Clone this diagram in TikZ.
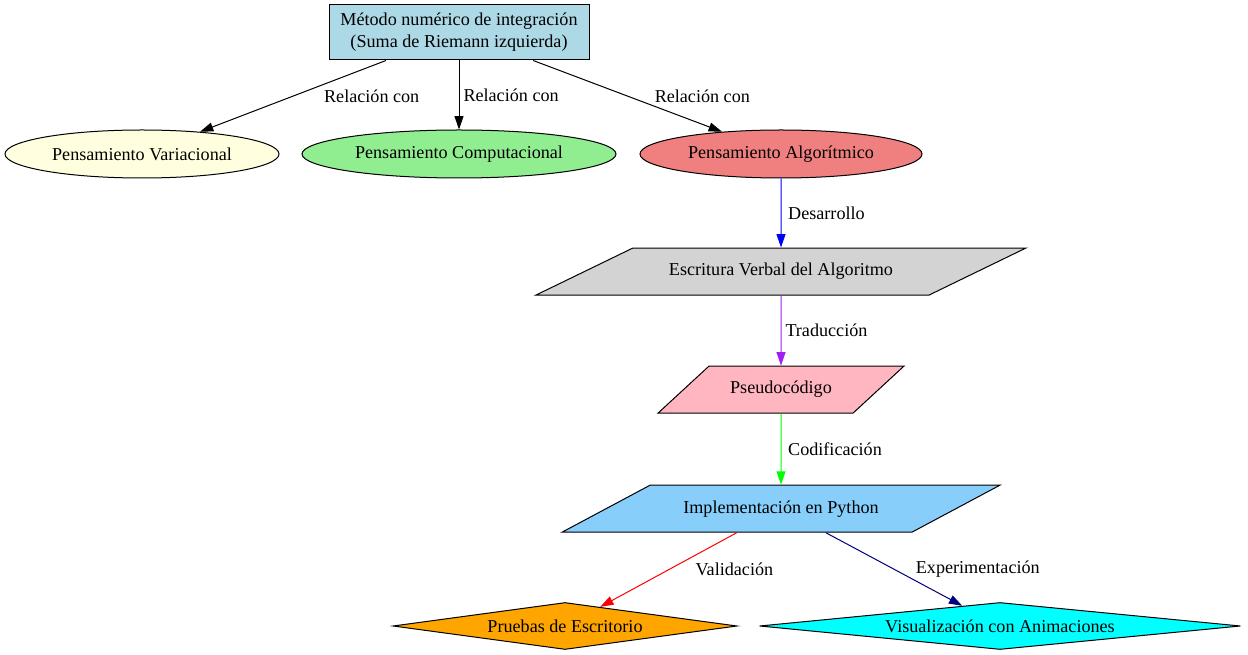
\documentclass[tikz,border=0pt]{standalone}
\usepackage{fontspec}
\setmainfont{Liberation Serif}
\usepackage{xcolor}
\usepackage{tikz}
\usetikzlibrary{positioning,arrows.meta,shapes.geometric}

\definecolor{gvlightblue}{HTML}{ADD8E6}
\definecolor{gvlightyellow}{HTML}{FFFFE0}
\definecolor{gvlightgreen}{HTML}{90EE90}
\definecolor{gvlightcoral}{HTML}{F08080}
\definecolor{gvlightgray}{HTML}{D3D3D3}
\definecolor{gvlightpink}{HTML}{FFB6C1}
\definecolor{gvskyblue}{HTML}{87CEFA}
\definecolor{gvorange}{HTML}{FFA500}
\definecolor{gvcyan}{HTML}{00FFFF}
\definecolor{gvpurple}{HTML}{A020F0}
\definecolor{gvgreen}{HTML}{00FF00}
\definecolor{gvnavy}{HTML}{000080}

\begin{document}
\begin{tikzpicture}[
  x=0.75pt, y=-0.75pt,
  font=\fontsize{13.6pt}{16.5pt}\selectfont,
  every node/.style={align=center},
  node distance=52.5pt,
  hdr/.style={draw, line width=0.75pt, fill=gvlightblue, minimum width=195pt, minimum height=41.25pt, inner sep=0pt},
  idea/.style={draw, ellipse, line width=0.75pt, minimum height=36pt, inner sep=0pt},
  paso/.style={draw, trapezium, trapezium stretches body=true, line width=0.75pt,
    text height=9.5pt, text depth=3pt, inner xsep=0pt, inner ysep=11.4pt},
  prueba/.style={draw, diamond, aspect=8, line width=0.75pt, minimum height=35.25pt, inner sep=0pt},
  flecha/.style={-{Triangle[length=10pt,width=6.7pt]}, line width=0.75pt},
  etq/.style={inner sep=0pt}
]
\useasboundingbox (0,0) rectangle (1248,655);

\node[hdr] (metodo) at (459,32.5) {Método numérico de integración\\(Suma de Riemann izquierda)};

\node[idea, fill=gvlightyellow, minimum width=205.5pt] (variac) at (142,154) {Pensamiento Variacional};
\node[idea, fill=gvlightgreen, minimum width=235.5pt] (comput) at (459,154) {Pensamiento Computacional};
\node[idea, fill=gvlightcoral, minimum width=211.5pt] (algor) at (781,154) {Pensamiento Algorítmico};

\node[paso, fill=gvlightgray, trapezium left angle=25.9, trapezium right angle=154.1,
  minimum width=367.5pt, below=51.75pt of algor] (verbal) {Escritura Verbal del Algoritmo};
\node[paso, fill=gvlightpink, trapezium left angle=42.7, trapezium right angle=137.3,
  minimum width=184.5pt, below=of verbal] (pseudo) {Pseudocódigo};
\node[paso, fill=gvskyblue, trapezium left angle=28.1, trapezium right angle=151.9,
  minimum width=328.5pt, below=53.25pt of pseudo] (python) {Implementación en Python};

\node[prueba, fill=gvorange, minimum width=258pt] (escrit) at (565,626) {Pruebas de Escritorio};
\node[prueba, fill=gvcyan, aspect=10, minimum width=360.75pt] (animac) at (1000,626) {Visualización con Animaciones};

\draw[flecha] (metodo) -- node[etq, right=23pt] {Relación con} (variac);
\draw[flecha] (metodo) -- node[etq, right=3pt] {Relación con} (comput);
\draw[flecha] (metodo) -- node[etq, right=20pt] {Relación con} (algor);
\draw[flecha, blue] (algor) -- node[etq, right=5pt, black] {Desarrollo} (verbal);
\draw[flecha, gvpurple] (verbal) -- node[etq, right=3pt, black] {Traducción} (pseudo);
\draw[flecha, gvgreen] (pseudo) -- node[etq, right=5pt, black] {Codificación} (python);
\draw[flecha, red] (python) -- node[etq, right=20pt, black] {Validación} (escrit);
\draw[flecha, gvnavy] (python) -- node[etq, right=16pt, black] {Experimentación} (animac);
\end{tikzpicture}
\end{document}
